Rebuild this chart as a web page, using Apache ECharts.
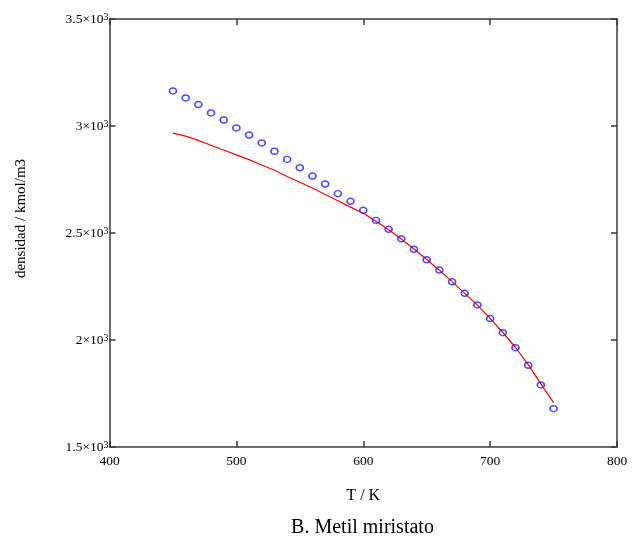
<!DOCTYPE html>
<html>
<head>
<meta charset="utf-8">
<script src="https://cdn.jsdelivr.net/npm/echarts@6/dist/echarts.min.js"></script>
<style>
html,body{margin:0;padding:0;background:#fff;}
#chart{width:643px;height:542px;}
</style>
</head>
<body>
<div id="chart"></div>
<script>
// Temperature (K)
var temps = [450,460,470,480,490,500,510,520,530,540,550,560,570,580,590,600,610,620,630,640,650,660,670,680,690,700,710,720,730,740,750];
// Experimental density (markers)
var rhoExp = [3164,3131,3100,3061,3028,2991,2958,2921,2882,2844,2805,2766,2729,2684,2648,2606,2559,2517,2473,2424,2375,2327,2272,2218,2164,2100,2034,1964,1882,1790,1679];
// Calculated density (line)
var rhoCalc = [2967,2953,2933,2910,2888,2865,2843,2818,2793,2764,2737,2710,2680,2651,2621,2592,2555,2515,2472,2425,2376,2326,2273,2218,2163,2101,2035,1965,1885,1795,1707];
// Axis ticks
var xTicks = [400,500,600,700,800];
var yTicks = [1500,2000,2500,3000,3500];
var xLabel = 'T / K';
var yLabel = 'densidad / kmol/m3';
var caption = 'B. Metil miristato';

var FONT = 'Liberation Serif';
var AXC = '#3a3a3a';

function pairs(xs, ys){ return xs.map(function(x,i){ return [x, ys[i]]; }); }

var chart = echarts.init(document.getElementById('chart'), null, {renderer:'canvas'});

var axisCommon = {
  axisLine:{show:true, lineStyle:{color:AXC, width:1.5}},
  axisTick:{show:true, inside:true, length:6, lineStyle:{color:AXC, width:1.5}},
  splitLine:{show:false}
};

chart.setOption({
  animation:false,
  backgroundColor:'#fff',
  grid:{left:109.5, right:26, top:19, bottom:95, containLabel:false},
  xAxis:[
    Object.assign({}, axisCommon, {
      type:'value', position:'bottom', min:xTicks[0], max:xTicks[xTicks.length-1], interval:100,
      axisLabel:{show:true, margin:7, color:'#000', fontFamily:FONT, fontSize:13.5},
      name:xLabel, nameLocation:'middle', nameGap:41,
      nameTextStyle:{color:'#000', fontFamily:FONT, fontSize:16}
    }),
    Object.assign({}, axisCommon, {
      type:'value', position:'top', min:xTicks[0], max:xTicks[xTicks.length-1], interval:100,
      axisLabel:{show:false}
    })
  ],
  yAxis:[
    Object.assign({}, axisCommon, {
      type:'value', position:'left', min:yTicks[0], max:yTicks[yTicks.length-1], interval:500,
      axisLabel:{
        show:true, margin:1, color:'#000', fontFamily:FONT,
        formatter:function(v){ return '{b|' + (v/1000) + '×10}{s|3}'; },
        rich:{
          b:{fontFamily:FONT, fontSize:13.5, lineHeight:14, color:'#000', verticalAlign:'bottom'},
          s:{fontFamily:FONT, fontSize:10, lineHeight:10, color:'#000', verticalAlign:'top', padding:[0,0,11,0]}
        }
      }
    }),
    Object.assign({}, axisCommon, {
      type:'value', position:'right', min:yTicks[0], max:yTicks[yTicks.length-1], interval:500,
      axisLabel:{show:false}
    })
  ],
  graphic:[
    {type:'text', x:21.5, y:218.5, rotation:Math.PI/2,
     style:{text:yLabel, fill:'#000', font:'15px "Liberation Serif"', textAlign:'center', textVerticalAlign:'middle'}},
    {type:'text', x:362.5, y:527.5,
     style:{text:caption, fill:'#000', font:'20px "Liberation Serif"', textAlign:'center', textVerticalAlign:'middle'}}
  ],
  series:[
    {
      type:'line', xAxisIndex:0, yAxisIndex:0,
      data:pairs(temps, rhoCalc),
      showSymbol:false, symbol:'none',
      lineStyle:{color:'#ff0000', width:1.2},
      z:2
    },
    {
      type:'scatter', xAxisIndex:0, yAxisIndex:0,
      data:pairs(temps, rhoExp),
      symbol:'circle', symbolSize:[7,6],
      itemStyle:{color:'rgba(0,0,0,0)', borderColor:'#1f1fff', borderWidth:1.6},
      z:3
    }
  ]
});
</script>
</body>
</html>
